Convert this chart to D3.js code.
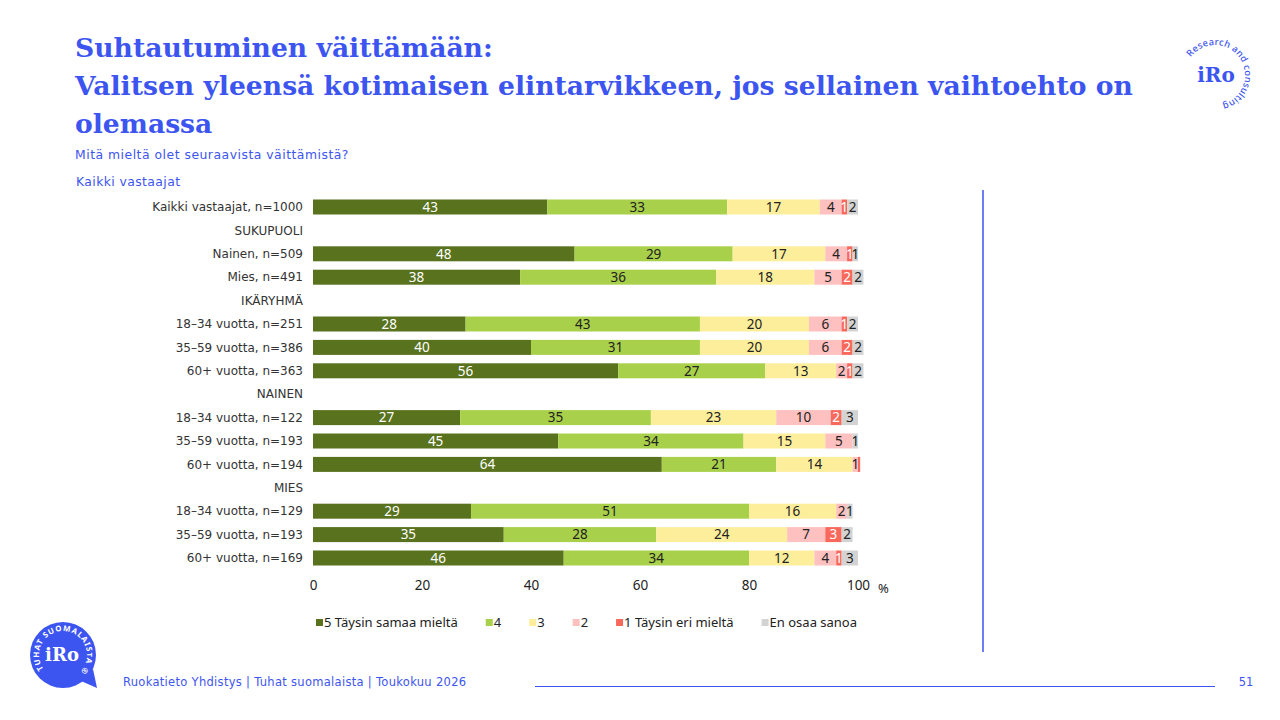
<!DOCTYPE html>
<html>
<head>
<meta charset="utf-8">
<script src="https://cdn.jsdelivr.net/npm/d3@7"></script>
<style>
  body { margin: 0; background: #fff; }
  svg { display: block; }
</style>
</head>
<body>
<svg id="chart" width="1280" height="720"></svg>
<script>
// ---------------------------------------------------------------------------
// data
var rowLabels = [
    'Kaikki vastaajat, n=1000', 'SUKUPUOLI', 'Nainen, n=509', 'Mies, n=491',
    'IKÄRYHMÄ', '18–34 vuotta, n=251', '35–59 vuotta, n=386', '60+ vuotta, n=363',
    'NAINEN', '18–34 vuotta, n=122', '35–59 vuotta, n=193', '60+ vuotta, n=194',
    'MIES', '18–34 vuotta, n=129', '35–59 vuotta, n=193', '60+ vuotta, n=169'
];
var isHeader = [false, true, false, false, true, false, false, false, true, false, false, false, true, false, false, false];

var seriesNames = ['5 Täysin samaa mieltä', '4', '3', '2', '1 Täysin eri mieltä', 'En osaa sanoa'];
var seriesColors = ['#58721e', '#a9d04a', '#fdee9c', '#fec1bf', '#f8695c', '#d3d3d3'];

var s5 = [43, null, 48, 38, null, 28, 40, 56, null, 27, 45, 64, null, 29, 35, 46];
var s4 = [33, null, 29, 36, null, 43, 31, 27, null, 35, 34, 21, null, 51, 28, 34];
var s3 = [17, null, 17, 18, null, 20, 20, 13, null, 23, 15, 14, null, 16, 24, 12];
var s2 = [4, null, 4, 5, null, 6, 6, 2, null, 10, 5, 1, null, 2, 7, 4];
var s1 = [1, null, 1, 2, null, 1, 2, 1, null, 2, 0, 0.4, null, 0, 3, 1];
var sEos = [2, null, 1, 2, null, 2, 2, 2, null, 3, 1, 0, null, 1, 2, 3];

var xTicks = [0, 20, 40, 60, 80, 100];

var titleLines = ['Suhtautuminen väittämään:',
    'Valitsen yleensä kotimaisen elintarvikkeen, jos sellainen vaihtoehto on',
    'olemassa'];

var blue = '#3d55f0';
var font = "'Noto Sans', 'Open Sans', sans-serif";
var wideFont = "'DejaVu Sans', sans-serif";

// ---------------------------------------------------------------------------
var svg = d3.select('#chart');

// title block
svg.append('g').selectAll('text')
    .data(titleLines)
    .enter().append('text')
    .attr('x', 75)
    .attr('y', function(d, i) { return 57 + i * 38; })
    .attr('fill', blue)
    .style('font-family', "'DejaVu Serif', serif")
    .style('font-weight', 'bold')
    .style('font-size', '26.6px')
    .text(function(d) { return d; });

svg.append('text').attr('x', 75).attr('y', 159)
    .attr('fill', blue).style('font-family', wideFont).style('font-size', '12.4px')
    .style('letter-spacing', '0.5px')
    .text('Mitä mieltä olet seuraavista väittämistä?');
svg.append('text').attr('x', 76).attr('y', 186)
    .attr('fill', blue).style('font-family', wideFont).style('font-size', '12.4px')
    .style('letter-spacing', '0.4px')
    .text('Kaikki vastaajat');

// ---------------------------------------------------------------------------
// scales
var x = d3.scaleLinear().domain([0, 100]).range([313, 858]);
var y = d3.scalePoint().domain(d3.range(rowLabels.length)).range([207, 558]);
var barH = 15;

var table = rowLabels.map(function(label, i) {
    return {label: label, header: isHeader[i],
            values: [s5[i], s4[i], s3[i], s2[i], s1[i], sEos[i]]};
});

// row labels
svg.append('g').selectAll('text')
    .data(table)
    .enter().append('text')
    .attr('x', 303)
    .attr('y', function(d, i) { return y(i); })
    .attr('dy', '0.35em')
    .attr('text-anchor', 'end')
    .attr('fill', '#333')
    .style('font-family', wideFont)
    .style('font-size', '12px')
    .text(function(d) { return d.label; });

// bars
var segs = [];
table.forEach(function(d, i) {
    if (d.header) return;
    var acc = 0;
    d.values.forEach(function(v, k) {
        segs.push({row: i, k: k, v: v, x0: acc, x1: acc + v});
        acc += v;
    });
});

var barG = svg.append('g');
barG.selectAll('rect')
    .data(segs.filter(function(s) { return s.v > 0; }))
    .enter().append('rect')
    .attr('x', function(s) { return x(s.x0); })
    .attr('width', function(s) { return x(s.x1) - x(s.x0); })
    .attr('y', function(s) { return y(s.row) - barH / 2; })
    .attr('height', barH)
    .attr('fill', function(s) { return seriesColors[s.k]; });

barG.selectAll('text')
    .data(segs.filter(function(s) { return s.v >= 0.5; }))
    .enter().append('text')
    .attr('x', function(s) { return (x(s.x0) + x(s.x1)) / 2; })
    .attr('y', function(s) { return y(s.row); })
    .attr('dy', '0.36em')
    .attr('text-anchor', 'middle')
    .attr('fill', function(s) { return (s.k === 0 || s.k === 4) ? '#fff' : '#222'; })
    .style('font-family', font)
    .style('font-size', '13.5px')
    .text(function(s) { return Math.round(s.v); });

// x axis
var xAxis = svg.append('g')
    .attr('transform', 'translate(0,580)')
    .call(d3.axisBottom(x).tickValues(xTicks).tickSize(0).tickPadding(0));
xAxis.select('.domain').remove();
xAxis.selectAll('text')
    .attr('dy', '0.71em')
    .attr('fill', '#222')
    .style('font-family', font)
    .style('font-size', '13.5px');
svg.append('text').attr('x', 878).attr('y', 593)
    .attr('fill', '#222').style('font-family', font).style('font-size', '13px')
    .text('%');

// legend
var legend = svg.append('g').attr('transform', 'translate(316,623)');
var lx = 0;
seriesNames.forEach(function(name, k) {
    var item = legend.append('g').attr('transform', 'translate(' + lx + ',0)');
    item.append('rect').attr('x', 0).attr('y', -4).attr('width', 7).attr('height', 7)
        .attr('fill', seriesColors[k]);
    var t = item.append('text').attr('x', 8).attr('y', 0).attr('dy', '0.33em')
        .attr('fill', '#222').style('font-family', font).style('font-size', '13px')
        .text(name);
    lx += 8 + t.node().getComputedTextLength() + 28;
});

// right side separator
svg.append('line').attr('x1', 983).attr('x2', 983).attr('y1', 190).attr('y2', 652)
    .attr('stroke', blue).attr('stroke-width', 1.5);

// footer
svg.append('text').attr('x', 123).attr('y', 686)
    .attr('fill', blue).style('font-family', wideFont).style('font-size', '11.5px')
    .style('letter-spacing', '0.3px')
    .text('Ruokatieto Yhdistys | Tuhat suomalaista | Toukokuu 2026');
svg.append('line').attr('x1', 535).attr('x2', 1215).attr('y1', 686.5).attr('y2', 686.5)
    .attr('stroke', blue).attr('stroke-width', 1);
svg.append('text').attr('x', 1246).attr('y', 686).attr('text-anchor', 'middle')
    .attr('fill', blue).style('font-family', wideFont).style('font-size', '11.5px')
    .text('51');

// ---------------------------------------------------------------------------
// logos
var defs = svg.append('defs');

function arcPath(cx, cy, r, a0, a1, sweep) {
    var p0 = [cx + r * Math.cos(a0), cy + r * Math.sin(a0)];
    var p1 = [cx + r * Math.cos(a1), cy + r * Math.sin(a1)];
    var large = Math.abs(a1 - a0) > Math.PI ? 1 : 0;
    return 'M' + p0[0] + ',' + p0[1] + ' A' + r + ',' + r + ' 0 ' + large + ',' + sweep + ' ' + p1[0] + ',' + p1[1];
}

// top right
var cxT = 1215, cyT = 75, rT = 30;
defs.append('path').attr('id', 'arcTop')
    .attr('d', arcPath(cxT, cyT, rT, -Math.PI * 0.8, Math.PI * 0.6, 1));
svg.append('text').attr('fill', blue).style('font-family', font)
    .style('font-size', '9.3px').style('font-weight', '500').style('letter-spacing', '0.25px')
    .append('textPath').attr('href', '#arcTop').text('Research and consulting');
svg.append('text').attr('x', 1216).attr('y', 82).attr('text-anchor', 'middle')
    .attr('fill', blue).style('font-family', "'DejaVu Serif', serif")
    .style('font-weight', 'bold').style('font-size', '20px').text('iRo');

// bottom left bubble
var cxB = 63, cyB = 655, rB = 33;
svg.append('path')
    .attr('d', 'M' + (cxB + 18) + ',' + (cyB + 26) + ' L' + (cxB + 34) + ',' + (cyB + 33) +
        ' L' + (cxB + 30) + ',' + (cyB + 14) + ' Z')
    .attr('fill', blue);
svg.append('circle').attr('cx', cxB).attr('cy', cyB).attr('r', rB).attr('fill', blue);
defs.append('path').attr('id', 'arcBub')
    .attr('d', arcPath(cxB, cyB, rB - 9, Math.PI * 0.8, Math.PI * 2.22, 1));
svg.append('text').attr('fill', '#fff').style('font-family', font)
    .style('font-size', '7.8px').style('font-weight', 'bold').style('letter-spacing', '0.9px')
    .append('textPath').attr('href', '#arcBub').text('TUHAT SUOMALAISTA ®');
svg.append('text').attr('x', cxB - 1).attr('y', cyB + 6).attr('text-anchor', 'middle')
    .attr('fill', '#fff').style('font-family', "'DejaVu Serif', serif")
    .style('font-weight', 'bold').style('font-size', '18px').text('iRo');
</script>
</body>
</html>
